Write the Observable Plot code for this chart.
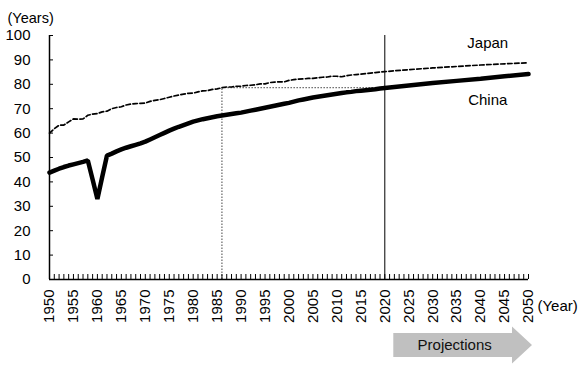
<!DOCTYPE html>
<html>
<head>
<meta charset="utf-8">
<script src="https://cdn.jsdelivr.net/npm/d3@7"></script>
<script src="https://cdn.jsdelivr.net/npm/@observablehq/plot@0.6"></script>
<style>
  html, body { margin: 0; padding: 0; background: #fff; }
  #chart svg { display: block; font-family: "Liberation Sans", Arial, sans-serif; }
</style>
</head>
<body>
<div id="chart"></div>
<script>
// ---- data ----
const years = [...d3.range(1950, 2021), 2025, 2030, 2035, 2040, 2045, 2050];
const japan = [
  60.0, 61.8, 63.2, 63.3, 64.6, 65.8, 65.7, 65.8, 67.3, 67.8,
  68.0, 68.7, 69.0, 70.0, 70.5, 70.8, 71.5, 71.9, 72.1, 72.2,
  72.3, 73.0, 73.4, 73.7, 74.2, 74.7, 75.2, 75.6, 76.0, 76.3,
  76.4, 76.9, 77.3, 77.4, 77.9, 78.1, 78.6, 78.9, 78.9, 79.2,
  79.2, 79.5, 79.6, 79.8, 80.2, 80.2, 80.7, 80.9, 81.0, 81.0,
  81.6, 81.9, 82.1, 82.2, 82.4, 82.4, 82.7, 82.9, 83.0, 83.3,
  83.3, 83.1, 83.5, 83.8, 84.0, 84.2, 84.4, 84.6, 84.8, 85.0,
  85.2, 86.0, 86.7, 87.3, 87.9, 88.4, 88.8
];
const china = [
  43.8, 44.6, 45.4, 46.1, 46.7, 47.2, 47.7, 48.2, 48.8, 41.0,
  33.0, 42.0, 50.8, 51.6, 52.5, 53.3, 54.0, 54.6, 55.2, 55.8,
  56.5, 57.4, 58.3, 59.2, 60.1, 61.0, 61.8, 62.6, 63.3, 64.0,
  64.7, 65.2, 65.7, 66.1, 66.5, 66.9, 67.2, 67.5, 67.8, 68.1,
  68.4, 68.8, 69.2, 69.6, 70.0, 70.4, 70.8, 71.2, 71.6, 72.0,
  72.4, 72.9, 73.4, 73.8, 74.2, 74.6, 74.9, 75.2, 75.5, 75.8,
  76.1, 76.4, 76.7, 76.9, 77.2, 77.4, 77.6, 77.8, 78.0, 78.3,
  78.5, 79.5, 80.5, 81.4, 82.3, 83.3, 84.2
];
const yTicks = d3.range(0, 101, 10);
const xLabelYears = d3.range(1950, 2051, 5);
const xMinorYears = d3.range(1950, 2051, 1);
const refYear = 1986;        // Japan's life expectancy in 1986 ...
const matchYear = 2020;      // ... reached by China around 2020
const projStart = 2020, projEnd = 2050;
const seriesNames = ["Japan", "China"];
const yUnit = "(Years)", xUnit = "(Year)", projLabel = "Projections";

const japanRows = years.map((y, i) => ({year: y, value: japan[i]}));
const chinaRows = years.map((y, i) => ({year: y, value: china[i]}));
const refValue = japan[years.indexOf(refYear)];

const font = "Liberation Sans, Arial, sans-serif";
const fs = 15;

// custom mark: the grey "Projections" arrow under the axis, placed with the x scale
function projectionArrow(index, scales, values, dimensions) {
  const x0 = scales.x(projStart) + 9;
  const x1 = scales.x(projEnd) + 4;
  const head = 20, cy = 345, bh = 12, hh = 18.5;
  const g = d3.create("svg:g");
  g.append("path")
    .attr("d", `M${x0},${cy - bh}L${x1 - head},${cy - bh}L${x1 - head},${cy - hh}L${x1},${cy}L${x1 - head},${cy + hh}L${x1 - head},${cy + bh}L${x0},${cy + bh}Z`)
    .attr("fill", "#c0c0c0");
  g.append("text")
    .attr("x", (x0 + x1 - head) / 2 + 2)
    .attr("y", cy)
    .attr("dy", "0.35em")
    .attr("text-anchor", "middle")
    .attr("font-size", fs)
    .attr("font-family", font)
    .attr("fill", "#111")
    .text(projLabel);
  return g.node();
}

const plot = Plot.plot({
  width: 588,
  height: 367,
  marginLeft: 49,
  marginRight: 60,
  marginTop: 35,
  marginBottom: 88,
  style: {fontFamily: font, fontSize: fs + "px", color: "#000", background: "#fff"},
  x: {domain: [1950, 2050]},
  y: {domain: [0, 100]},
  marks: [
    // helper dotted lines
    Plot.ruleX([refYear], {y1: 0, y2: refValue, stroke: "#444", strokeWidth: 1, strokeDasharray: "1.5,1.5"}),
    Plot.ruleY([refValue], {x1: refYear, x2: matchYear, stroke: "#444", strokeWidth: 1, strokeDasharray: "1.5,1.5"}),
    // projection divider
    Plot.ruleX([projStart], {y1: 0, y2: 100, stroke: "#000", strokeWidth: 1}),
    // series
    Plot.line(japanRows, {x: "year", y: "value", stroke: "#000", strokeWidth: 1.7, strokeDasharray: "4.5,2.5"}),
    Plot.line(chinaRows, {x: "year", y: "value", stroke: "#000", strokeWidth: 4.5, strokeLinejoin: "miter"}),
    // axes lines
    Plot.ruleY([0], {stroke: "#000", strokeWidth: 1.5}),
    Plot.ruleX([1950], {stroke: "#000", strokeWidth: 1.5}),
    // x minor ticks (inside, every year)
    Plot.axisX({ticks: xMinorYears, tickSize: 5, dy: -5, text: null, label: null, stroke: "#000"}),
    // x labels rotated
    Plot.axisX({ticks: xLabelYears, tickSize: 0, tickPadding: 10, tickRotate: -90, tickFormat: d => String(d), label: null, fontSize: fs, fill: "#000"}),
    // y ticks (inside)
    Plot.axisY({ticks: yTicks, tickSize: 4, dx: 4, text: null, label: null, stroke: "#000"}),
    Plot.axisY({ticks: yTicks, tickSize: 0, tickPadding: 19, label: null, fontSize: fs, fill: "#000"}),
    // series labels
    Plot.text([seriesNames[0]], {x: 2041.5, y: 97, text: d => d, fontSize: fs, fill: "#000"}),
    Plot.text([seriesNames[1]], {x: 2041.5, y: 73.3, text: d => d, fontSize: fs, fill: "#000"}),
    // unit labels
    Plot.text([yUnit], {frameAnchor: "top-left", text: d => d, dx: -42, dy: -23, textAnchor: "start", fontSize: 14.5, fill: "#000"}),
    Plot.text([xUnit], {frameAnchor: "bottom-right", text: d => d, dx: 9, dy: 31, textAnchor: "start", fontSize: fs, fill: "#000"}),
    projectionArrow
  ]
});

document.getElementById("chart").append(plot);
</script>
</body>
</html>
